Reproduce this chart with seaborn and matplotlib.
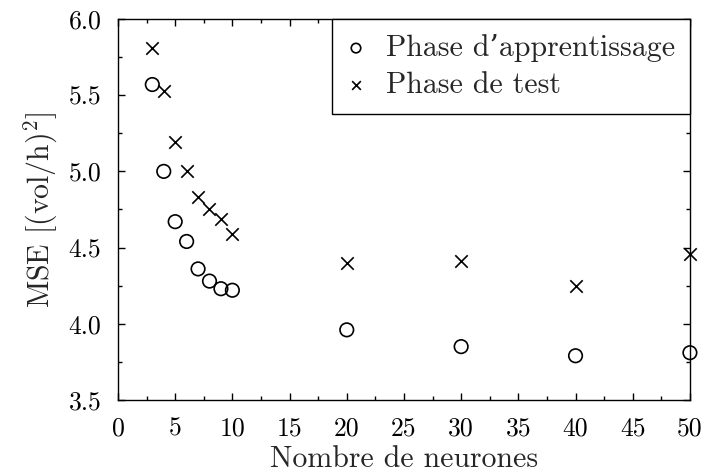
import numpy as np
import pandas as pd
import seaborn as sns
import matplotlib.pyplot as plt
from matplotlib.ticker import MultipleLocator

# Nombre de neurones dans la couche cachee
neurones = [3, 4, 5, 6, 7, 8, 9, 10, 20, 30, 40, 50]

# MSE
mse_apprentissage = [5.57, 5.00, 4.67, 4.54, 4.36, 4.28, 4.23, 4.22, 3.96, 3.85, 3.79, 3.81]
mse_test = [5.81, 5.53, 5.19, 5.00, 4.83, 4.75, 4.69, 4.59, 4.40, 4.41, 4.25, 4.46]

labels = ["Phase d\u2019apprentissage", "Phase de test"]

sns.set_style("ticks")
plt.rcParams['font.family'] = ['cmr10', 'DejaVu Serif']
plt.rcParams['mathtext.fontset'] = 'cm'
plt.rcParams['axes.formatter.use_mathtext'] = True

fig = plt.figure(figsize=(7.04, 4.75), dpi=100)
ax = fig.add_axes([0.1676, 0.158, 0.8124, 0.802])

df = pd.DataFrame({"n": neurones, "train": mse_apprentissage, "test": mse_test})

sns.scatterplot(data=df, x="n", y="train", ax=ax, marker="o", s=95,
                facecolors="none", edgecolor="black", linewidth=1.2,
                label=labels[0], zorder=3, clip_on=False)
sns.scatterplot(data=df, x="n", y="test", ax=ax, marker="x", s=80,
                color="black", linewidth=1.2, label=labels[1], zorder=3,
                clip_on=False)

ax.set_xlim(0, 50)
ax.set_ylim(3.5, 6.0)
ax.xaxis.set_major_locator(MultipleLocator(5))
ax.xaxis.set_minor_locator(MultipleLocator(2.5))
ax.yaxis.set_major_locator(MultipleLocator(0.5))
ax.yaxis.set_minor_locator(MultipleLocator(0.25))
ax.xaxis.set_major_formatter(plt.FuncFormatter(lambda v, p: f"{v:.0f}"))
ax.yaxis.set_major_formatter(plt.FuncFormatter(lambda v, p: f"{v:.1f}"))

ax.tick_params(which="both", direction="in", top=True, right=True,
               width=1.0, labelsize=18.5, colors="black")
ax.tick_params(which="major", length=5)
ax.tick_params(axis="x", which="major", pad=12)
ax.tick_params(axis="y", which="major", pad=12)
ax.tick_params(which="minor", length=3)
for s in ax.spines.values():
    s.set_linewidth(1.0)
    s.set_color("black")

ax.set_xlabel("Nombre de neurones", fontsize=21.5, labelpad=4)
ax.set_ylabel(r"MSE $[(\mathrm{vol/h})^2]$", fontsize=21.5, labelpad=6)

leg = ax.legend(loc="upper right", borderaxespad=0, fancybox=False,
                framealpha=1, edgecolor="black", fontsize=21.5,
                handletextpad=0.7, markerscale=0.7, borderpad=0.5,
                labelspacing=0.32, handlelength=0.6)
leg.get_frame().set_linewidth(1.0)

fig.savefig("out.png", dpi=100)
